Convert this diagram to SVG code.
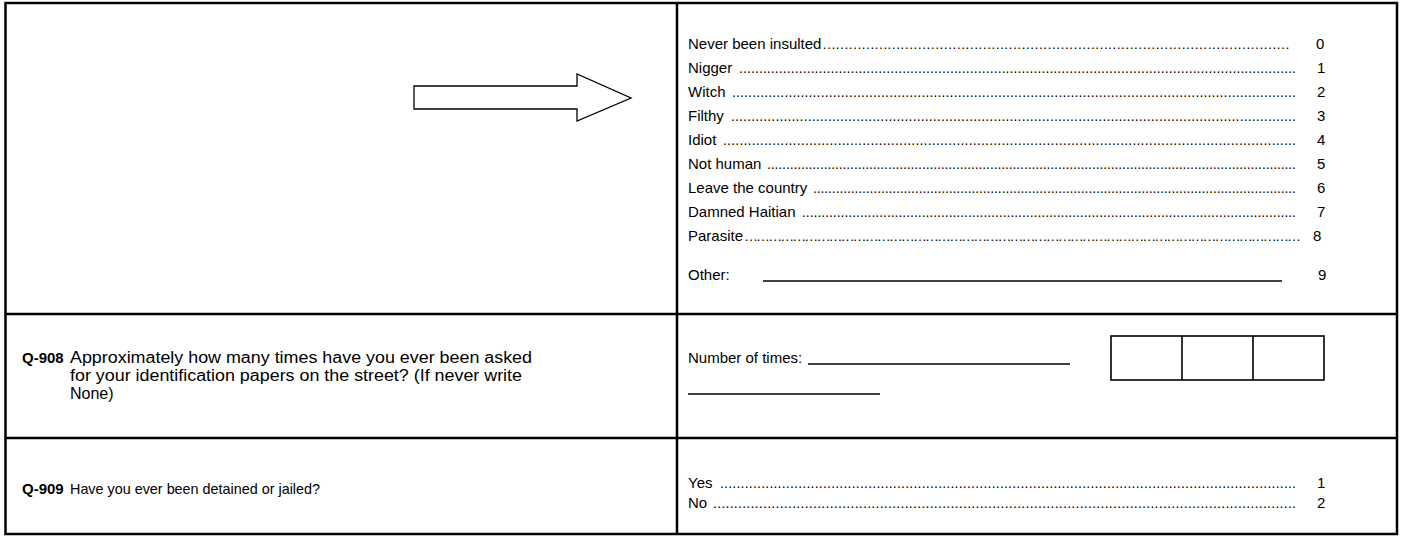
<svg xmlns="http://www.w3.org/2000/svg" width="1404" height="539" viewBox="0 0 1404 539">
<style>
  .t { font-family: "Liberation Sans", Arial, sans-serif; font-size: 15px; fill: #000; }
  .q { font-family: "Liberation Sans", Arial, sans-serif; font-size: 16px; fill: #000; }
  .d { font-family: "Liberation Sans", Arial, sans-serif; font-size: 14px; fill: #000; }
  .b { font-weight: bold; }
  .ln { stroke: #000; stroke-width: 2.5; fill: none; }
  .ul { stroke: #000; stroke-width: 1.3; fill: none; }
  .box { stroke: #000; stroke-width: 1.6; fill: #fff; }
</style>
<rect width="1404" height="539" fill="#fff"/>
<g id="table">
  <rect class="ln" x="5.5" y="3" width="1391.5" height="531"/>
  <line class="ln" x1="677" y1="3" x2="677" y2="534"/>
  <line class="ln" x1="5.5" y1="314" x2="1397" y2="314"/>
  <line class="ln" x1="5.5" y1="438" x2="1397" y2="438"/>
</g>
<g id="arrow">
  <polygon points="414,86 577,86 577,74 631,98 577,121 577,109 414,109" fill="#fff" stroke="#000" stroke-width="1.3"/>
</g>
<g id="q907-options">
  <text class="t" x="688" y="49">Never been insulted</text>
  <text class="d" x="822" y="49" textLength="468" lengthAdjust="spacing">………………………………………………………………………………………………</text>
  <text class="t" x="1316" y="49">0</text>

  <text class="t" x="688" y="73">Nigger</text>
  <text class="d" x="739" y="73" textLength="557" lengthAdjust="spacing">............................................................................................................................................</text>
  <text class="t" x="1317" y="73">1</text>

  <text class="t" x="688" y="97">Witch</text>
  <text class="d" x="732" y="97" textLength="564" lengthAdjust="spacing">............................................................................................................................................</text>
  <text class="t" x="1317" y="97">2</text>

  <text class="t" x="688" y="121">Filthy</text>
  <text class="d" x="731" y="121" textLength="565" lengthAdjust="spacing">............................................................................................................................................</text>
  <text class="t" x="1317" y="121">3</text>

  <text class="t" x="688" y="145">Idiot</text>
  <text class="d" x="723" y="145" textLength="573" lengthAdjust="spacing">............................................................................................................................................</text>
  <text class="t" x="1317" y="145">4</text>

  <text class="t" x="688" y="169">Not human</text>
  <text class="d" x="767" y="169" textLength="529" lengthAdjust="spacing">............................................................................................................................................</text>
  <text class="t" x="1317" y="169">5</text>

  <text class="t" x="688" y="193">Leave the country</text>
  <text class="d" x="813" y="193" textLength="483" lengthAdjust="spacing">................................................................................................................................</text>
  <text class="t" x="1317" y="193">6</text>

  <text class="t" x="688" y="217">Damned Haitian</text>
  <text class="d" x="802" y="217" textLength="494" lengthAdjust="spacing">................................................................................................................................</text>
  <text class="t" x="1317" y="217">7</text>

  <text class="t" x="688" y="241">Parasite</text>
  <text class="d" x="744" y="241" textLength="557" lengthAdjust="spacing">…………………………………………………………………………………………………………………………</text>
  <text class="t" x="1313" y="241">8</text>

  <text class="t" x="688" y="280">Other:</text>
  <line class="ul" x1="763" y1="281" x2="1282" y2="281"/>
  <text class="t" x="1318" y="280">9</text>
</g>
<g id="q908">
  <text class="t b" x="22" y="363">Q-908</text>
  <text class="q" x="70" y="363" textLength="462" lengthAdjust="spacingAndGlyphs">Approximately how many times have you ever been asked</text>
  <text class="q" x="70" y="381" textLength="452" lengthAdjust="spacingAndGlyphs">for your identification papers on the street? (If never write</text>
  <text class="q" x="70" y="399">None)</text>
  <text class="t" x="688" y="363">Number of times:</text>
  <line class="ul" x1="808" y1="364" x2="1070" y2="364"/>
  <line class="ul" x1="688" y1="394" x2="880" y2="394"/>
  <rect class="box" x="1111" y="336" width="213" height="44"/>
  <line class="box" x1="1182" y1="336" x2="1182" y2="380"/>
  <line class="box" x1="1253" y1="336" x2="1253" y2="380"/>
</g>
<g id="q909">
  <text class="t b" x="22" y="494">Q-909</text>
  <text class="t" x="70" y="494" textLength="250" lengthAdjust="spacingAndGlyphs">Have you ever been detained or jailed?</text>
  <text class="t" x="688" y="488">Yes</text>
  <text class="d" x="720" y="488" textLength="576" lengthAdjust="spacing">............................................................................................................................................</text>
  <text class="t" x="1317" y="488">1</text>
  <text class="t" x="688" y="508">No</text>
  <text class="d" x="713" y="508" textLength="583" lengthAdjust="spacing">............................................................................................................................................</text>
  <text class="t" x="1317" y="508">2</text>
</g>
</svg>
